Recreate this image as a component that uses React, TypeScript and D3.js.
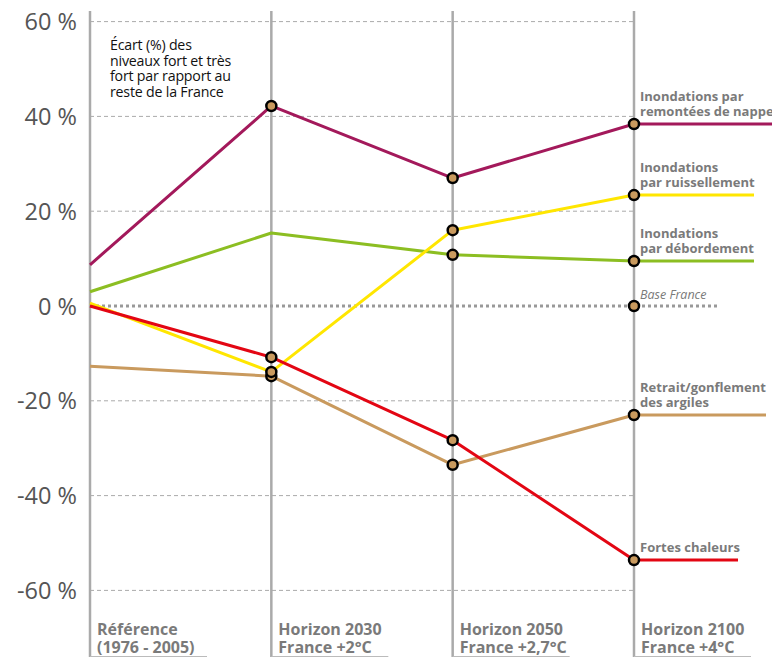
import React from "react";
import * as d3 from "d3";

const categories = ["ref", "2030", "2050", "2100"];
const categoryLabels = [
  ["Référence", "(1976 - 2005)"],
  ["Horizon 2030", "France +2°C"],
  ["Horizon 2050", "France +2,7°C"],
  ["Horizon 2100", "France +4°C"],
];
const yTicks = [60, 40, 20, 0, -20, -40, -60];

const nappe = [8.7, 42.2, 27.0, 38.4];
const ruissellement = [0.6, -13.9, 16.0, 23.4];
const debordement = [3.0, 15.4, 10.8, 9.5];
const argiles = [-12.7, -14.8, -33.5, -23.0];
const chaleurs = [0, -10.8, -28.3, -53.6];
const baseFrance = [0, 0, 0, 0];

const annotation = ["Écart (%) des", "niveaux fort et très", "fort par rapport au", "reste de la France"];

// drawing order: first drawn is underneath
const series = [
  { name: ["Retrait/gonflement", "des argiles"], values: argiles, color: "#c99a5e", end: 766, markers: [1, 2, 3] },
  { name: ["Inondations", "par débordement"], values: debordement, color: "#8cbe22", end: 754, markers: [2, 3] },
  { name: ["Inondations", "par ruissellement"], values: ruissellement, color: "#ffe600", end: 754, markers: [1, 2, 3] },
  { name: ["Inondations par", "remontées de nappe"], values: nappe, color: "#a3195b", end: 775, markers: [1, 2, 3] },
  { name: ["Fortes chaleurs"], values: chaleurs, color: "#e30613", end: 738, markers: [1, 2, 3] },
];

export default function App() {
  const W = 772, H = 658;
  const x = d3.scalePoint<string>().domain(categories).range([90, 634]);
  const y = d3.scaleLinear().domain([-60, 60]).range([590.4, 21.6]);
  const line = d3.line<[number, number]>().x((d) => d[0]).y((d) => d[1]);
  const gray = "#7a7a7a";
  const markerFill = "#c99a5e";

  const pts = (vals: number[], end: number): [number, number][] => {
    const p: [number, number][] = vals.map((v, i) => [x(categories[i])!, y(v)]);
    p.push([end, y(vals[vals.length - 1])]);
    return p;
  };

  const lastX = x(categories[3])!;

  return (
    <svg width={W} height={H} style={{ position: "absolute", left: 0, top: 0, background: "#fff" }}
      fontFamily="'Open Sans', sans-serif">
      {/* horizontal dashed grid */}
      {yTicks.filter((t) => t !== 0).map((t) => (
        <line key={t} x1={90} x2={lastX} y1={y(t)} y2={y(t)} stroke="#aaa" strokeWidth={1} strokeDasharray="4 3" />
      ))}
      {/* y tick labels */}
      {yTicks.map((t) => (
        <text key={"l" + t} x={77} y={y(t) + 8.5} textAnchor="end" fontSize={23.5} fill="#555">
          {t} %
        </text>
      ))}
      {/* vertical lines */}
      {categories.map((c) => (
        <line key={c} x1={x(c)} x2={x(c)} y1={11} y2={657} stroke="#aaa" strokeWidth={2.5} />
      ))}
      {/* bottom category labels + underline */}
      {categories.map((c, i) => (
        <g key={"c" + c}>
          <line x1={x(c)!} x2={x(c)! + 117} y1={656.5} y2={656.5} stroke="#bbb" strokeWidth={1} />
          <text x={x(c)! + 7} y={635} fontSize={16} fontWeight={700} fill={gray}>{categoryLabels[i][0]}</text>
          <text x={x(c)! + 7} y={653} fontSize={16} fontWeight={700} fill={gray}>{categoryLabels[i][1]}</text>
        </g>
      ))}
      {/* annotation */}
      {annotation.map((s, i) => (
        <text key={s} x={110} y={50 + i * 15.7} fontSize={14.2} fill="#111" letterSpacing={-0.2}>{s}</text>
      ))}
      {/* base France dotted */}
      <path d={line([[90, y(baseFrance[0])], [718, y(baseFrance[3])]])!} stroke="#999" strokeWidth={3} strokeDasharray="3 3" fill="none" />
      {/* series lines */}
      {series.map((s) => (
        <path key={s.color} d={line(pts(s.values, s.end))!} stroke={s.color} strokeWidth={3} fill="none" strokeLinejoin="round" />
      ))}
      {/* markers */}
      {series.map((s) =>
        s.markers.map((i) => (
          <circle key={s.color + i} cx={x(categories[i])} cy={y(s.values[i])} r={5} fill={markerFill} stroke="#000" strokeWidth={2.5} />
        ))
      )}
      <circle cx={lastX} cy={y(baseFrance[3])} r={5} fill={markerFill} stroke="#000" strokeWidth={2.5} />
      {/* right labels */}
      {series.map((s) => {
        const yy = y(s.values[3]) - 8;
        return s.name.map((n, j) => (
          <text key={n} x={640} y={yy - (s.name.length - 1 - j) * 15} fontSize={13} fontWeight={700} fill={gray}>{n}</text>
        ));
      })}
      <text x={640} y={y(0) - 7} fontSize={12.5} fontStyle="italic" fill={gray}>Base France</text>
    </svg>
  );
}
